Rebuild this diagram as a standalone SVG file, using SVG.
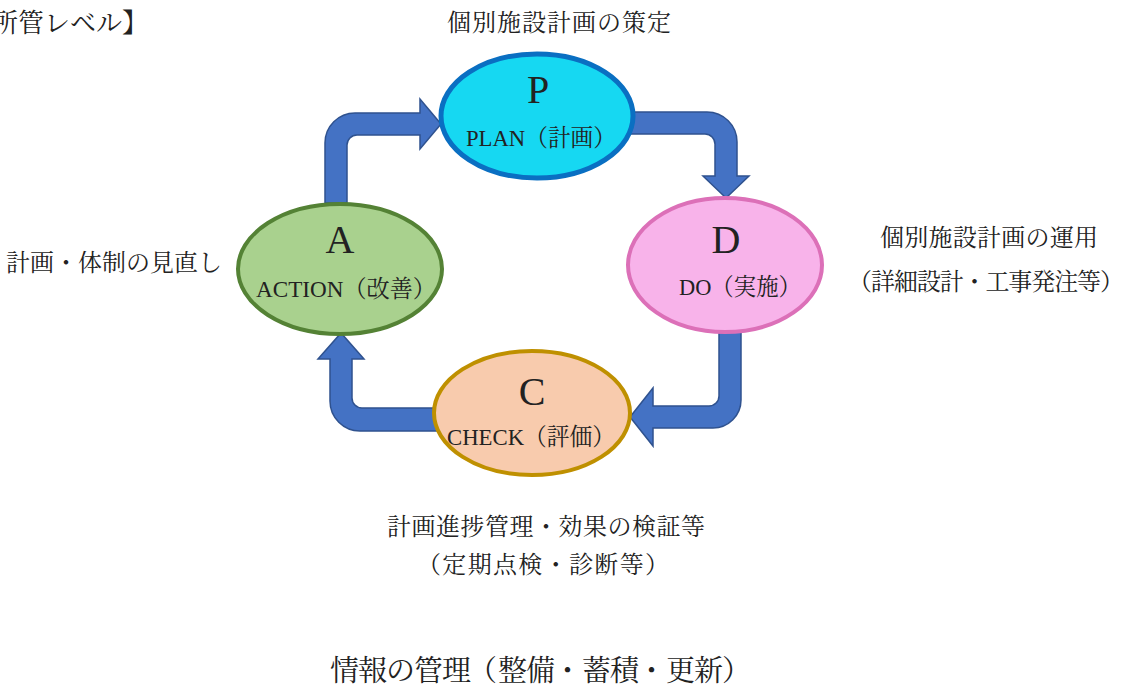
<svg xmlns="http://www.w3.org/2000/svg" width="1126" height="693" viewBox="0 0 1126 693">
<style>
.t{font-family:"Liberation Serif","Noto Serif CJK JP","Noto Sans CJK JP",serif;fill:#222}
.lbl{font-size:24px;text-anchor:middle}
.big{font-size:40px;text-anchor:middle}
.sub{font-size:24px;text-anchor:middle}
.arr{fill:#4472c4;stroke:#2f528f;stroke-width:1.5;stroke-linejoin:miter}
</style>
<rect width="1126" height="693" fill="#ffffff"/>
<text class="t" x="-8" y="32" font-size="26">所管レベル】</text>
<g id="connectors">
<path class="arr" d="M325,203 L325,143 A30,30 0 0 1 355,113 L420,113 L420,99 L441,124 L420,149 L420,135 L357,135 A10,10 0 0 0 347,145 L347,203 Z"/>
<path class="arr" d="M628,112 L707,112 A30,30 0 0 1 737,142 L737,176 L749,176 L726,198 L703,176 L715,176 L715,144 A10,10 0 0 0 705,134 L628,134 Z"/>
<path class="arr" d="M719,330 L741,330 L741,400 A28,28 0 0 1 713,428 L653,428 L653,446 L630,417 L653,388 L653,406 L709,406 A10,10 0 0 0 719,396 Z"/>
<path class="arr" d="M440,408 L362,408 A10,10 0 0 1 352,398 L352,359 L364,359 L341,333 L318,359 L330,359 L330,401 A30,30 0 0 0 360,431 L440,431 Z"/>
</g>
<g id="node-P">
<ellipse cx="537" cy="116" rx="96" ry="62" fill="#16d8f2" stroke="#0a6fc2" stroke-width="5"/>
<text class="t big" x="538" y="103">P</text>
<text class="t sub" x="541" y="146" textLength="150" lengthAdjust="spacingAndGlyphs">PLAN（計画）</text>
</g>
<g id="node-D">
<ellipse cx="725" cy="265" rx="97" ry="67" fill="#f8b3ea" stroke="#dc70b8" stroke-width="4"/>
<text class="t big" x="726" y="253">D</text>
<text class="t sub" x="740" y="295" textLength="122" lengthAdjust="spacingAndGlyphs">DO（実施）</text>
</g>
<g id="node-C">
<ellipse cx="532" cy="413" rx="98" ry="62" fill="#f8cbad" stroke="#bf9000" stroke-width="4"/>
<text class="t big" x="532" y="405">C</text>
<text class="t sub" x="531" y="445" textLength="168" lengthAdjust="spacingAndGlyphs">CHECK（評価）</text>
</g>
<g id="node-A">
<ellipse cx="340" cy="269" rx="102" ry="65" fill="#a9d18e" stroke="#548235" stroke-width="4"/>
<text class="t big" x="340" y="253">A</text>
<text class="t sub" x="346" y="297" textLength="180" lengthAdjust="spacingAndGlyphs">ACTION（改善）</text>
</g>
<g id="labels">
<text class="t lbl" x="559" y="31" textLength="224">個別施設計画の策定</text>
<text class="t lbl" x="989" y="246" textLength="218">個別施設計画の運用</text>
<text class="t" x="1124" y="290" font-size="24" text-anchor="end" textLength="276">（詳細設計・工事発注等）</text>
<text class="t lbl" x="114" y="271">計画・体制の見直し</text>
<text class="t lbl" x="546" y="535" textLength="318">計画進捗管理・効果の検証等</text>
<text class="t lbl" x="543" y="573" textLength="252">（定期点検・診断等）</text>
<text class="t" y="681" font-size="29" x="330 358 386 414 442 468 498 526 553 582 610 637 666 694 722">情報の管理（整備・蓄積・更新）</text>
</g>
</svg>
